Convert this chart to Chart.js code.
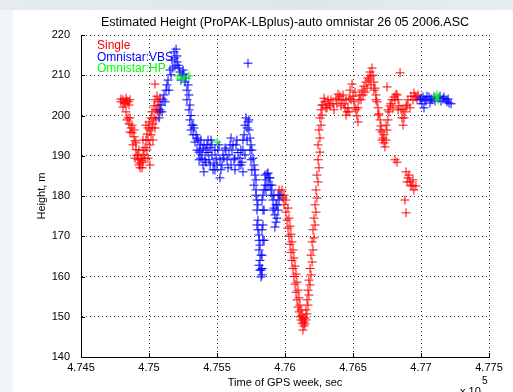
<!DOCTYPE html>
<html>
<head>
<meta charset="utf-8">
<script src="https://cdn.jsdelivr.net/npm/chart.js@4"></script>
<style>
  html, body { margin: 0; padding: 0; }
  body { width: 513px; height: 392px; overflow: hidden; background: #eef6f9; position: relative; }
  #topband { position: absolute; left: 0; top: 0; width: 513px; height: 10px; background: linear-gradient(90deg, #e4ecef, #dde6e9 60%, #e6eef1); }
  #wrap { position: absolute; left: 13px; top: 10px; width: 500px; height: 382px; background: #fff; }
</style>
</head>
<body>
<div id="topband"></div>
<div id="wrap"><canvas id="chart" width="500" height="382"></canvas></div>
<script>
const titleText = 'Estimated Height (ProPAK-LBplus)-auto omnistar 26 05 2006.ASC';
const xTitle = 'Time of GPS week, sec';
const yTitle = 'Height, m';
const seriesNames = ['Single', 'Omnistar:VBS', 'Omnistar:HP'];
const seriesColors = ['#ff0000', '#0000ff', '#00ff00'];
const xTickLabels = ['4.745', '4.75', '4.755', '4.76', '4.765', '4.77', '4.775'];
const yTickLabels = ['140', '150', '160', '170', '180', '190', '200', '210', '220'];

// Single (red)
const singleTime = [
  474794, 474809, 474824, 474838, 474853, 474831, 474846, 474853, 474868, 474875,
  474890, 474897, 474904, 474912, 474919, 474934, 474941, 474949, 474956, 474963,
  474971, 474978, 474985, 474993, 475000, 475007, 475015, 475022, 475029, 475037,
  475044, 475051, 475059, 475066, 475044, 475081, 475066, 474978, 474956, 474926,
  475956, 475971, 475985, 475993, 476007, 476015, 476022, 476029, 476037, 476044,
  476051, 476059, 476066, 476074, 476081, 476088, 476096, 476103, 476110, 476118,
  476125, 476132, 476140, 476147, 476154, 476162, 476169, 476176, 476184, 476191,
  476199, 476206, 476213, 476221, 476228, 476235, 476243, 476243, 476250, 476257,
  476265, 476279, 476294, 476309, 476324, 476338,
  476353, 476375, 476390, 476404, 476419, 476434, 476441, 476456, 476463, 476471,
  476478, 476493, 476500, 476507, 476522, 476529, 476537, 476544, 476551, 476566,
  476581, 476596, 476610, 476625, 476640, 476647, 476654, 476662, 476669, 476676,
  476684, 476691, 476699, 476706, 476713, 476721, 476728, 476735, 476743, 476750,
  476757, 476765, 476772, 476787, 476802, 476816, 476831, 476838, 476750, 476846,
  476853, 476860, 476868, 476875, 476882, 476890, 476904, 476824, 476890, 476904,
  476919, 476934, 476948, 476963, 476882, 476890, 476926, 476948, 476963, 476978,
  // second pass
  474794, 474816, 474831, 474846, 474860, 474809, 474838, 474860, 474875, 474860,
  474890, 474882, 474904, 474919, 474897, 474934, 474949, 474926, 474956, 474971,
  474985, 474993, 475007, 475015, 475022, 475029, 475037, 475044, 475051, 475059,
  475074, 475081, 474993, 475007,
  475978, 475993, 476007, 476022, 476029, 476037, 476044, 476051, 476059, 476066,
  476074, 476081, 476088, 476096, 476103, 476110, 476118, 476125, 476132, 476140,
  476147, 476154, 476162,
  476169, 476176, 476184, 476191, 476199, 476206, 476213, 476221, 476228, 476235,
  476243, 476250, 476257, 476257, 476265, 476272, 476272, 476287, 476301, 476316,
  476331,
  476360, 476382, 476397, 476412, 476427, 476449, 476449, 476471, 476485, 476515,
  476515, 476537, 476559, 476574, 476588, 476603, 476618, 476632, 476632, 476654,
  476669, 476684, 476699, 476713, 476728, 476743, 476757, 476779, 476794, 476809,
  476824, 476831, 476868, 476897, 476919, 476912, 476926, 476941, 476897, 476956,
  476971, 476941, 476809
];
const singleHeight = [
  203.4, 203.9, 202.9, 203.6, 202.6, 200.9, 199.4, 197.9, 196.9, 195.7,
  194.7, 193.7, 191.5, 190.0, 189.0, 188.2, 189.4, 187.0, 188.4, 190.2,
  192.0, 193.9, 195.4, 196.9, 198.4, 196.4, 199.4, 200.9, 197.9, 202.4,
  203.9, 201.4, 204.8, 203.4, 207.8, 204.3, 200.9, 197.6, 193.9, 191.4,
  181.5, 180.2, 179.5, 177.8, 176.0, 174.0, 172.0, 170.0, 168.0, 166.0,
  164.0, 162.0, 160.0, 158.1, 156.1, 154.2, 152.4, 151.2, 150.0, 149.2,
  148.4, 146.7, 148.7, 149.7, 151.7, 154.2, 156.6, 159.1, 162.0, 165.3,
  168.6, 171.6, 174.5, 177.8, 181.5, 185.2, 189.0, 192.7, 196.4, 199.4,
  201.4, 202.6, 203.4, 201.9, 202.9, 203.9,
  202.9, 204.3, 205.3, 204.8, 203.9, 202.9, 201.9, 200.9, 201.9, 204.3,
  206.3, 207.8, 204.8, 203.4, 201.4, 199.9, 201.9, 203.9, 205.1, 206.3,
  207.3, 208.3, 209.3, 210.8, 211.8, 210.0, 208.3, 206.8, 205.1, 203.4,
  201.9, 200.4, 198.9, 197.4, 195.9, 194.4, 193.2, 192.2, 193.9, 196.4,
  198.9, 200.9, 202.4, 203.9, 204.6, 205.3, 203.9, 202.4, 207.1, 210.6,
  201.6, 199.4, 197.6, 199.4, 200.9, 202.4, 203.9, 188.4, 186.0, 184.5,
  183.5, 182.5, 181.5, 182.5, 179.0, 175.8, 204.8, 205.6, 204.6, 205.1,
  // second pass
  204.1, 203.1, 204.3, 203.4, 203.9, 202.1, 198.9, 199.4, 197.6, 195.9,
  196.4, 192.7, 193.2, 190.2, 189.4, 187.0, 188.9, 187.7, 191.4, 189.4,
  191.4, 193.9, 192.7, 195.2, 196.9, 193.9, 199.4, 196.9, 198.9, 201.4,
  202.6, 200.9, 189.4, 187.7,
  181.5, 180.2, 179.0, 177.0, 174.5, 172.5, 170.5, 168.6, 166.6, 164.6,
  162.6, 160.6, 158.6, 156.6, 154.7, 152.9, 151.7, 150.4, 149.7, 147.7,
  148.2, 149.2, 150.7,
  152.9, 155.4, 157.9, 160.4, 163.6, 166.6, 169.6, 172.8, 176.0, 179.5,
  183.5, 187.0, 190.9, 194.4, 197.6, 200.1, 202.6, 204.3, 201.9, 203.9,
  202.4,
  201.4, 202.9, 203.9, 202.4, 205.1, 203.9, 200.1, 200.9, 203.9, 205.8,
  201.9, 198.4, 203.9, 205.1, 205.8, 206.8, 208.8, 209.8, 207.6, 206.3,
  203.9, 200.1, 196.4, 193.9, 195.2, 197.6, 201.4, 202.9, 201.9, 203.9,
  205.1, 201.4, 201.4, 202.6, 201.9, 185.2, 182.7, 184.0, 183.5, 204.8,
  203.9, 203.9, 189.0
];

// Omnistar:VBS (blue)
const vbsTime = [
  475081, 475103, 475125, 475140, 475154, 475169, 475184, 475199, 475206, 475213,
  475228, 475243, 475257, 475272, 475287, 475294, 475301, 475309, 475316, 475331,
  475346, 475360, 475375, 475397, 475353, 475368, 475375, 475390, 475397, 475404,
  475412, 475419, 475426, 475434, 475441, 475449, 475456, 475463, 475478, 475485,
  475493, 475507, 475522, 475522, 475537, 475544, 475559, 475574, 475581, 475596,
  475603, 475610, 475625, 475632, 475640, 475654, 475669, 475676, 475684, 475691,
  475691, 475699, 475706, 475713, 475721, 475728, 475735, 475743, 475750, 475757,
  475728,
  475765, 475772, 475779, 475787, 475787, 475794, 475794, 475801, 475801, 475809,
  475809, 475816, 475816, 475824, 475831, 475831, 475838, 475838, 475846, 475838,
  475853,
  475853, 475860, 475868, 475875, 475882, 475890, 475897, 475904, 475912, 475919,
  475926, 475934, 475926, 475941, 475949, 475956,
  476993, 477007, 477015, 477022, 477037, 477059, 477066, 477081, 477096, 477140,
  477162, 477184, 477206, 477221,
  // second pass
  475074, 475088, 475096, 475110, 475118, 475132, 475147, 475162, 475176, 475191,
  475191, 475206,
  475221, 475235, 475250, 475265, 475279, 475279, 475294, 475301, 475309, 475324,
  475338, 475324,
  475353, 475368, 475382, 475382, 475404, 475419, 475434, 475449, 475463, 475471,
  475485, 475500, 475515, 475529, 475551, 475566, 475588, 475603, 475618, 475632,
  475647, 475662, 475676, 475691, 475706, 475721, 475735, 475743,
  475779, 475787, 475801, 475794, 475809, 475816, 475824, 475809, 475824, 475831,
  475846, 475831, 475838, 475831, 475846, 475750, 475757, 475772,
  475860, 475875, 475890, 475904, 475919, 475934, 475949, 475941, 475912, 475963,
  477000, 477029, 477044, 477074, 477103, 477132, 477147, 477169, 477191, 477199
];
const vbsHeight = [
  201.4, 203.9, 206.3, 208.8, 211.3, 213.8, 215.8, 216.5, 214.8, 212.5,
  210.8, 210.0, 210.3, 209.3, 207.6, 205.1, 202.6, 200.0, 197.6, 196.9,
  195.2, 193.9, 192.7, 191.9, 194.4, 190.9, 191.4, 190.2, 187.7, 186.0,
  189.0, 191.4, 192.7, 190.8, 189.0, 192.0, 193.9, 190.2, 188.2, 186.5,
  189.4, 191.4, 189.0, 184.5, 187.7, 190.2, 191.9, 189.0, 187.0, 192.7,
  194.4, 191.4, 189.0, 186.5, 192.7, 190.8, 189.4, 187.7, 188.4, 186.0,
  191.4, 195.2, 197.6, 199.4, 196.9, 198.4, 196.4, 194.4, 192.7, 191.4,
  213.0,
  189.4, 187.7, 186.5, 184.0, 181.5, 179.0, 176.5, 174.0, 171.6, 169.0,
  166.6, 164.0, 161.6, 159.9, 162.0, 165.3, 169.0, 172.8, 176.5, 180.2,
  182.7,
  185.2, 184.0, 185.5, 185.7, 184.5, 182.7, 181.5, 180.2, 179.0, 177.0,
  175.3, 173.5, 172.3, 177.8, 180.2, 179.0,
  203.9, 202.9, 204.6, 201.9, 203.6, 204.6, 203.1, 203.9, 204.6, 204.8,
  204.1, 203.9, 203.1, 202.9,
  // second pass
  199.4, 202.6, 200.9, 205.1, 203.4, 207.6, 206.3, 210.1, 211.8, 214.3,
  212.3, 213.3,
  211.8, 208.8, 211.3, 208.3, 206.3, 203.9, 201.4, 198.9, 196.4, 195.2,
  193.4, 197.6,
  191.4, 189.0, 193.9, 189.4, 192.7, 188.4, 193.9, 187.7, 192.7, 186.5,
  191.4, 187.7, 192.7, 186.5, 189.4, 191.4, 190.2, 187.7, 192.7, 189.4,
  193.9, 187.7, 191.4, 193.9, 190.2, 193.9, 198.9, 191.4,
  185.2, 180.2, 177.8, 172.8, 170.3, 167.8, 165.3, 162.8, 161.6, 160.4,
  169.0, 171.6, 176.5, 179.0, 181.5, 189.0, 186.5, 182.7,
  181.5, 182.7, 184.5, 182.7, 180.2, 177.8, 176.5, 174.5, 176.5, 180.2,
  204.3, 203.9, 204.8, 204.1, 203.6, 204.3, 203.6, 204.6, 203.4, 204.1
];

// Omnistar:HP (green)
const hpTime = [475213, 475235, 475257, 475294, 475500, 477110, 477118, 477125];
const hpHeight = [209.8, 209.1, 209.3, 209.8, 193.4, 204.6, 205.1, 203.9];

function toPoints(xs, ys) {
  return xs.map((x, i) => ({ x: x, y: ys[i] }));
}

const fontFamily = '"Liberation Sans", Arial, sans-serif';
Chart.defaults.font.family = fontFamily;
Chart.defaults.font.size = 11;
Chart.defaults.color = '#000';

// legend text, inward ticks and the x10^5 multiplier
const matlabBits = {
  id: 'matlabBits',
  afterDatasetsDraw(chart) {
    const { ctx, chartArea: a, scales: { x, y } } = chart;
    ctx.save();
    ctx.strokeStyle = '#000';
    ctx.lineWidth = 1;
    ctx.beginPath();
    x.ticks.forEach(t => {
      const px = Math.round(x.getPixelForValue(t.value)) + 0.5;
      ctx.moveTo(px, a.bottom);
      ctx.lineTo(px, a.bottom - 4);
    });
    y.ticks.forEach(t => {
      const py = Math.round(y.getPixelForValue(t.value)) + 0.5;
      ctx.moveTo(a.left, py);
      ctx.lineTo(a.left + 4, py);
    });
    ctx.stroke();

    ctx.font = '12px ' + fontFamily;
    ctx.textBaseline = 'middle';
    ctx.textAlign = 'left';
    chart.data.datasets.forEach((ds, i) => {
      ctx.fillStyle = ds.borderColor;
      ctx.fillText(ds.label, a.left + 16, a.top + 11 + i * 11.5);
    });

    ctx.fillStyle = '#000';
    ctx.textBaseline = 'top';
    ctx.font = '11px ' + fontFamily;
    ctx.fillText('x 10', 447, 376);
    ctx.font = '10px ' + fontFamily;
    ctx.fillText('5', 469, 366);
    ctx.restore();
  }
};

const gridDots = { dash: [1, 3] };

new Chart(document.getElementById('chart'), {
  type: 'scatter',
  data: {
    datasets: [
      { label: seriesNames[0], data: toPoints(singleTime, singleHeight), borderColor: seriesColors[0], backgroundColor: seriesColors[0], order: 2 },
      { label: seriesNames[1], data: toPoints(vbsTime, vbsHeight), borderColor: seriesColors[1], backgroundColor: seriesColors[1], order: 1 },
      { label: seriesNames[2], data: toPoints(hpTime, hpHeight), borderColor: seriesColors[2], backgroundColor: seriesColors[2], order: 0 }
    ]
  },
  options: {
    responsive: false,
    animation: false,
    events: [],
    layout: { padding: { left: 0, right: 24, top: 0, bottom: 0 } },
    elements: {
      point: { pointStyle: 'cross', radius: 4.5, borderWidth: 1, hoverRadius: 4.5 }
    },
    plugins: {
      legend: { display: false },
      tooltip: { enabled: false },
      title: {
        display: true,
        text: titleText,
        fullSize: false,
        font: { size: 12.5, weight: 'normal' },
        color: '#000',
        padding: { top: 5, bottom: 5 }
      }
    },
    scales: {
      x: {
        type: 'linear',
        min: 474500,
        max: 477500,
        afterFit: s => { s.height = 35; },
        afterBuildTicks: s => {
          s.ticks = xTickLabels.map(l => ({ value: Math.round(parseFloat(l) * 1e5) }));
        },
        ticks: {
          padding: 4,
          maxRotation: 0,
          autoSkip: false,
          callback: (v, i) => xTickLabels[i]
        },
        grid: { color: 'rgba(0,0,0,0.8)', drawTicks: false, lineWidth: 1 },
        border: { display: true, color: '#000', width: 1, dash: gridDots.dash },
        title: { display: true, text: xTitle, font: { size: 11 }, padding: { top: 0, bottom: 2 } }
      },
      y: {
        type: 'linear',
        min: 140,
        max: 220,
        afterFit: s => { s.width = 68; },
        afterBuildTicks: s => {
          s.ticks = yTickLabels.map(l => ({ value: parseFloat(l) }));
        },
        ticks: {
          padding: 11,
          autoSkip: false,
          callback: (v, i) => yTickLabels[i]
        },
        grid: { color: 'rgba(0,0,0,0.8)', drawTicks: false, lineWidth: 1 },
        border: { display: true, color: '#000', width: 1, dash: gridDots.dash },
        title: { display: true, text: yTitle, font: { size: 11 }, padding: { top: 22, bottom: 0 } }
      }
    }
  },
  plugins: [matlabBits]
});
</script>
</body>
</html>
